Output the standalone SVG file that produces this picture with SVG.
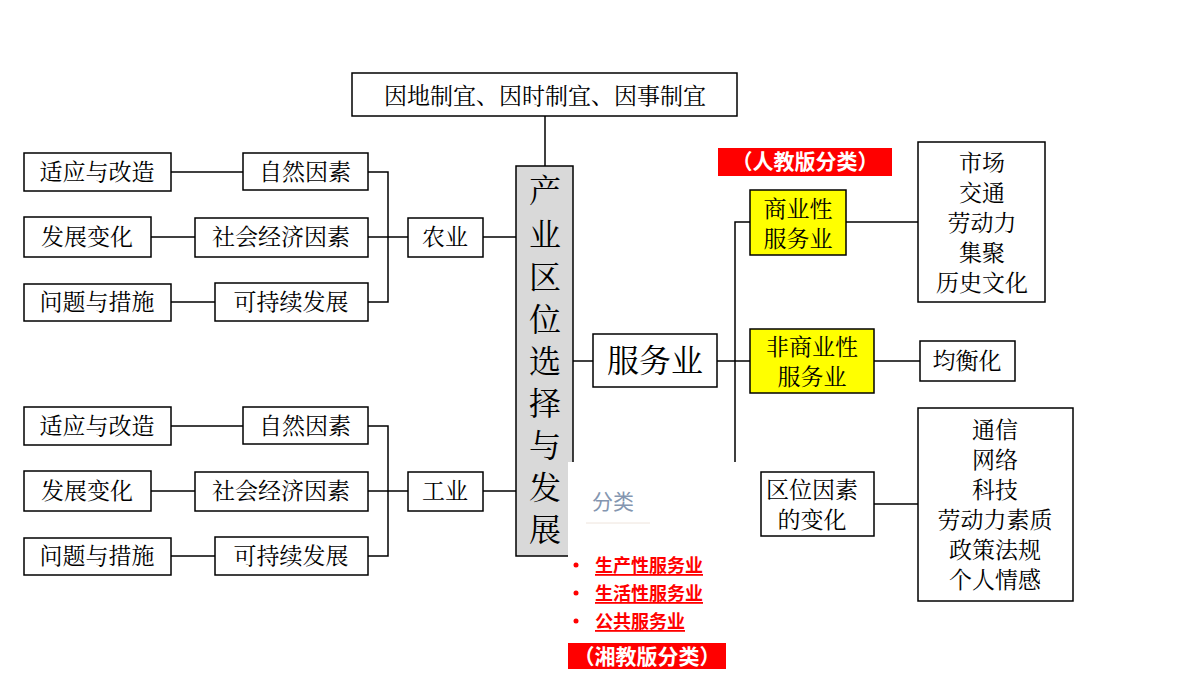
<svg xmlns="http://www.w3.org/2000/svg" width="1200" height="675" viewBox="0 0 1200 675">
<style>
.b{fill:#fff;stroke:#000;stroke-width:1.5}
.y{fill:#ffff00;stroke:#000;stroke-width:1.5}
.t{font-family:"Noto Serif CJK SC","Noto Sans CJK SC",serif;font-size:23px;fill:#000;text-anchor:middle;dominant-baseline:central}
.c line,.c polyline{stroke:#000;stroke-width:1.5;fill:none}
.r{font-family:"Noto Sans CJK SC",sans-serif;font-weight:bold;fill:#fff;text-anchor:middle;dominant-baseline:central;font-size:21px}
.p{font-family:"Noto Sans CJK SC",sans-serif;font-weight:bold;fill:#ff0000;font-size:18px;text-decoration:underline;dominant-baseline:central}
</style>
<rect width="1200" height="675" fill="#fff"/>
<g class="c">
<line x1="545" y1="116" x2="545" y2="166"/>
<line x1="171" y1="172" x2="243" y2="172"/><line x1="151" y1="237" x2="195" y2="237"/><line x1="171" y1="302" x2="215" y2="302"/>
<polyline points="368,172 388,172 388,302 368,302"/><line x1="368" y1="237" x2="408" y2="237"/><line x1="483" y1="237" x2="516" y2="237"/>
<line x1="171" y1="426" x2="243" y2="426"/><line x1="151" y1="491" x2="195" y2="491"/><line x1="171" y1="556" x2="215" y2="556"/>
<polyline points="368,426 388,426 388,556 368,556"/><line x1="368" y1="491" x2="408" y2="491"/><line x1="483" y1="491" x2="516" y2="491"/>
<line x1="573" y1="361" x2="593" y2="361"/><line x1="717" y1="361" x2="750" y2="361"/>
<polyline points="750,222 735,222 735,462"/>
<line x1="846" y1="222" x2="918" y2="222"/><line x1="874" y1="361" x2="920" y2="361"/><line x1="874" y1="504" x2="918" y2="504"/>
</g>
<g id="top"><rect class="b" x="352" y="73" width="385" height="43"/><text class="t" x="545" y="94">因地制宜、因时制宜、因事制宜</text></g>
<g id="center"><rect x="516" y="166" width="57" height="390" fill="#d9d9d9" stroke="#000" stroke-width="1.5"/>
<text class="t" style="font-size:32px" x="545"><tspan x="545" y="188">产</tspan><tspan x="545" y="232">业</tspan><tspan x="545" y="275">区</tspan><tspan x="545" y="317">位</tspan><tspan x="545" y="359">选</tspan><tspan x="545" y="401">择</tspan><tspan x="545" y="443">与</tspan><tspan x="545" y="485">发</tspan><tspan x="545" y="527">展</tspan></text></g>
<g id="a1"><rect class="b" x="24" y="153" width="147" height="38"/><text class="t" x="97" y="170">适应与改造</text></g>
<g id="a2"><rect class="b" x="243" y="153" width="125" height="37"/><text class="t" x="305" y="170">自然因素</text></g>
<g id="a3"><rect class="b" x="24" y="217" width="127" height="40"/><text class="t" x="87" y="235">发展变化</text></g>
<g id="a4"><rect class="b" x="195" y="218" width="173" height="39"/><text class="t" x="281" y="235">社会经济因素</text></g>
<g id="a5"><rect class="b" x="24" y="284" width="147" height="37"/><text class="t" x="97" y="300">问题与措施</text></g>
<g id="a6"><rect class="b" x="215" y="283" width="153" height="38"/><text class="t" x="291" y="300">可持续发展</text></g>
<g id="ag"><rect class="b" x="408" y="218" width="75" height="39"/><text class="t" x="445" y="235">农业</text></g>
<g id="i1"><rect class="b" x="24" y="407" width="147" height="38"/><text class="t" x="97" y="424">适应与改造</text></g>
<g id="i2"><rect class="b" x="243" y="407" width="125" height="37"/><text class="t" x="305" y="424">自然因素</text></g>
<g id="i3"><rect class="b" x="24" y="471" width="127" height="40"/><text class="t" x="87" y="489">发展变化</text></g>
<g id="i4"><rect class="b" x="195" y="472" width="173" height="39"/><text class="t" x="281" y="489">社会经济因素</text></g>
<g id="i5"><rect class="b" x="24" y="538" width="147" height="37"/><text class="t" x="97" y="554">问题与措施</text></g>
<g id="i6"><rect class="b" x="215" y="537" width="153" height="38"/><text class="t" x="291" y="554">可持续发展</text></g>
<g id="in"><rect class="b" x="408" y="472" width="75" height="39"/><text class="t" x="445" y="489">工业</text></g>
<g id="sv"><rect class="b" x="593" y="334" width="124" height="53"/><text class="t" style="font-size:32px" x="655" y="358">服务业</text></g>
<g id="rj"><rect x="718" y="148" width="174" height="28" fill="#ff0000"/><text class="r" x="805" y="160">（人教版分类）</text></g>
<g id="s1"><rect class="y" x="750" y="190" width="96" height="65"/><text class="t"><tspan x="798" y="207">商业性</tspan><tspan x="798" y="237">服务业</tspan></text></g>
<g id="s2"><rect class="y" x="750" y="329" width="124" height="64"/><text class="t"><tspan x="812" y="345">非商业性</tspan><tspan x="812" y="375">服务业</tspan></text></g>
<g id="s3"><rect class="b" x="761" y="472" width="113" height="64"/><text class="t"><tspan x="812" y="488">区位因素</tspan><tspan x="812" y="518">的变化</tspan></text></g>
<g id="f1"><rect class="b" x="918" y="142" width="127" height="160"/><text class="t"><tspan x="982" y="161">市场</tspan><tspan x="982" y="191">交通</tspan><tspan x="982" y="221">劳动力</tspan><tspan x="982" y="251">集聚</tspan><tspan x="982" y="281">历史文化</tspan></text></g>
<g id="f2"><rect class="b" x="920" y="341" width="95" height="40"/><text class="t" x="967" y="359">均衡化</text></g>
<g id="f3"><rect class="b" x="918" y="408" width="155" height="193"/><text class="t"><tspan x="995" y="428">通信</tspan><tspan x="995" y="458">网络</tspan><tspan x="995" y="488">科技</tspan><tspan x="995" y="518">劳动力素质</tspan><tspan x="995" y="548">政策法规</tspan><tspan x="995" y="578">个人情感</tspan></text></g>
<g id="popup">
<rect x="568" y="462" width="167" height="180" fill="#fff"/>
<text x="592" y="500" font-family="Noto Sans CJK SC,sans-serif" font-size="21" fill="#8496b0" dominant-baseline="central">分类</text>
<line x1="586" y1="523" x2="650" y2="523" stroke="#eee4dc" stroke-width="1"/>
<g fill="#ff0000"><circle cx="576" cy="565" r="2.5"/><circle cx="576" cy="593" r="2.5"/><circle cx="576" cy="621" r="2.5"/></g>
<text class="p" x="595" y="564">生产性服务业</text><text class="p" x="595" y="592">生活性服务业</text><text class="p" x="595" y="620">公共服务业</text>
<rect x="568" y="643" width="158" height="26" fill="#ff0000"/><text class="r" x="647" y="655">（湘教版分类）</text>
</g>
</svg>
